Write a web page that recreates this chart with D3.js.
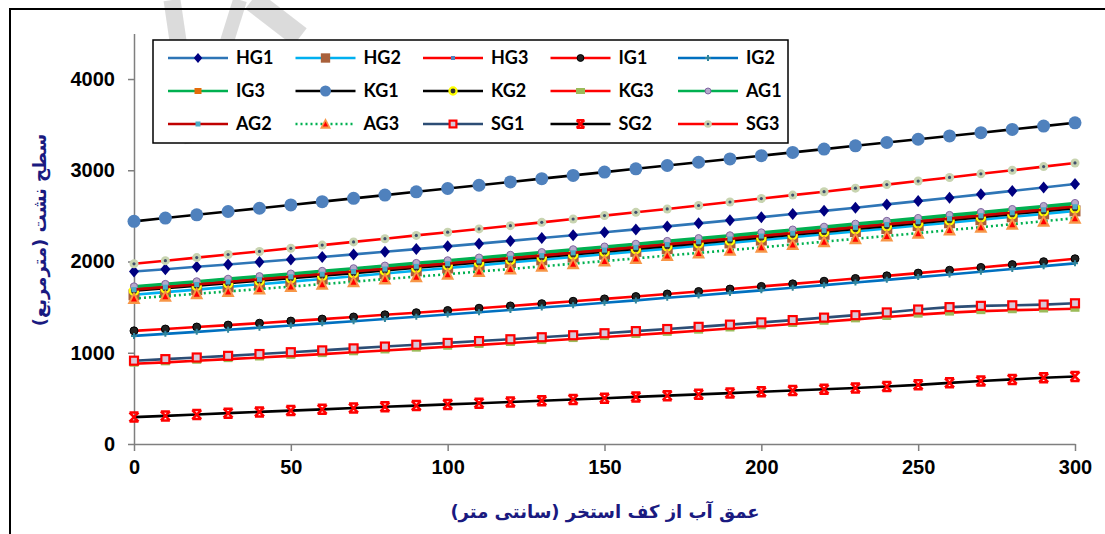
<!DOCTYPE html>
<html>
<head>
<meta charset="utf-8">
<script src="https://cdn.jsdelivr.net/npm/d3@7"></script>
<style>
  body { margin: 0; background: #fff; }
  svg { display: block; }
  .axis text { font-family: "Liberation Sans", Arial, sans-serif; font-weight: bold; font-size: 20px; fill: #000; }
  .axis path, .axis line { stroke: #7f7f7f; stroke-width: 1.5; }
  .legend text { font-family: Lato, "Open Sans", sans-serif; font-weight: bold; font-size: 18px; fill: #000; }
  .title { font-family: "DejaVu Sans", sans-serif; font-weight: bold; fill: #1a1a80; }
</style>
</head>
<body>
<svg width="1105" height="534"></svg>
<script>
// DATA
const depth = [0, 10, 20, 30, 40, 50, 60, 70, 80, 90, 100, 110, 120, 130, 140, 150, 160, 170, 180, 190, 200, 210, 220, 230, 240, 250, 260, 270, 280, 290, 300]

const HG1 = [1890, 1916, 1942, 1968, 1995, 2022, 2050, 2078, 2107, 2136, 2166, 2196, 2226, 2257, 2288, 2320, 2352, 2385, 2418, 2451, 2486, 2520, 2555, 2590, 2626, 2662, 2699, 2736, 2774, 2812, 2850]
const HG2 = [1635, 1664, 1692, 1722, 1751, 1780, 1809, 1839, 1868, 1898, 1929, 1958, 1989, 2019, 2049, 2080, 2111, 2141, 2173, 2204, 2235, 2266, 2298, 2329, 2361, 2394, 2425, 2458, 2490, 2522, 2555]
const HG3 = [1700, 1727, 1756, 1784, 1812, 1841, 1869, 1898, 1927, 1956, 1985, 2015, 2045, 2074, 2105, 2135, 2165, 2196, 2227, 2257, 2289, 2320, 2351, 2384, 2415, 2447, 2480, 2512, 2544, 2577, 2610]
const IG1 = [1240, 1260, 1282, 1303, 1324, 1347, 1369, 1392, 1416, 1439, 1463, 1488, 1513, 1538, 1564, 1590, 1616, 1644, 1671, 1698, 1727, 1755, 1784, 1814, 1843, 1873, 1904, 1935, 1966, 1998, 2030]
const IG2 = [1185, 1207, 1229, 1252, 1275, 1299, 1322, 1346, 1370, 1395, 1419, 1444, 1469, 1496, 1521, 1548, 1574, 1602, 1628, 1656, 1684, 1713, 1741, 1770, 1799, 1829, 1858, 1888, 1918, 1949, 1980]
const IG3 = [1720, 1747, 1776, 1804, 1832, 1861, 1889, 1918, 1947, 1976, 2005, 2035, 2065, 2094, 2125, 2155, 2185, 2216, 2247, 2277, 2309, 2340, 2371, 2404, 2435, 2467, 2500, 2532, 2564, 2597, 2630]
const KG1 = [2440, 2476, 2512, 2548, 2584, 2620, 2656, 2692, 2728, 2764, 2800, 2836, 2872, 2908, 2944, 2980, 3016, 3052, 3088, 3124, 3160, 3196, 3232, 3268, 3304, 3340, 3376, 3412, 3448, 3484, 3520]
const KG2 = [1680, 1707, 1734, 1762, 1789, 1817, 1845, 1873, 1901, 1931, 1960, 1989, 2018, 2047, 2077, 2108, 2138, 2168, 2199, 2230, 2261, 2293, 2324, 2356, 2388, 2420, 2452, 2486, 2519, 2552, 2585]
const KG3 = [880, 895, 912, 930, 948, 966, 985, 1005, 1025, 1045, 1066, 1086, 1107, 1128, 1150, 1172, 1195, 1218, 1242, 1266, 1290, 1315, 1340, 1366, 1392, 1418, 1440, 1456, 1466, 1474, 1482]
const AG1 = [1728, 1755, 1784, 1812, 1840, 1869, 1898, 1927, 1956, 1985, 2014, 2044, 2074, 2104, 2135, 2165, 2195, 2226, 2257, 2288, 2320, 2351, 2382, 2415, 2446, 2478, 2511, 2543, 2576, 2609, 2642]
const AG2 = [1692, 1719, 1748, 1776, 1804, 1833, 1861, 1890, 1918, 1947, 1976, 2006, 2036, 2065, 2095, 2125, 2155, 2186, 2217, 2247, 2279, 2310, 2341, 2374, 2405, 2437, 2470, 2502, 2534, 2567, 2600]
const AG3 = [1595, 1620, 1647, 1672, 1698, 1725, 1752, 1779, 1807, 1834, 1861, 1890, 1918, 1947, 1976, 2005, 2034, 2065, 2094, 2124, 2155, 2186, 2217, 2249, 2280, 2311, 2344, 2376, 2409, 2442, 2475]
const SG1 = [913, 930, 948, 966, 986, 1006, 1026, 1048, 1068, 1088, 1108, 1128, 1148, 1170, 1192, 1214, 1237, 1260, 1284, 1308, 1333, 1358, 1385, 1412, 1442, 1474, 1500, 1514, 1520, 1528, 1542]
const SG2 = [295, 308, 323, 338, 352, 366, 380, 394, 408, 421, 434, 447, 460, 474, 488, 502, 516, 530, 544, 558, 572, 586, 600, 614, 630, 648, 670, 690, 708, 726, 740]
const SG3 = [1975, 2009, 2043, 2077, 2110, 2145, 2180, 2215, 2250, 2286, 2321, 2357, 2393, 2429, 2466, 2503, 2539, 2576, 2614, 2652, 2690, 2728, 2765, 2804, 2843, 2882, 2921, 2961, 3000, 3040, 3080]

const names = ["HG1", "HG2", "HG3", "IG1", "IG2", "IG3", "KG1", "KG2", "KG3", "AG1", "AG2", "AG3", "SG1", "SG2", "SG3"]
const values = [HG1, HG2, HG3, IG1, IG2, IG3, KG1, KG2, KG3, AG1, AG2, AG3, SG1, SG2, SG3]
const xTicks = [0, 50, 100, 150, 200, 250, 300]
const yTicks = [0, 1000, 2000, 3000, 4000]

// line colour, dash, marker kind
const styles = {
  HG1: { line: "#2e75b6", marker: "diamond" },
  HG2: { line: "#00b0f0", marker: "square" },
  HG3: { line: "#ff0000", marker: "tiny" },
  IG1: { line: "#ff0000", marker: "dot" },
  IG2: { line: "#0070c0", marker: "teal" },
  IG3: { line: "#00b050", marker: "orange" },
  KG1: { line: "#000000", marker: "bigcircle" },
  KG2: { line: "#000000", marker: "ring" },
  KG3: { line: "#ff0000", marker: "olive" },
  AG1: { line: "#00b050", marker: "grey" },
  AG2: { line: "#c00000", marker: "cyan" },
  AG3: { line: "#00b050", marker: "triangle", dash: "2,3" },
  SG1: { line: "#2c4d75", marker: "redsquare" },
  SG2: { line: "#000000", marker: "star" },
  SG3: { line: "#ff0000", marker: "pale" }
}

// SETUP
const svg = d3.select("svg")

// frame
svg.append("rect")
  .attr("x", 10).attr("y", 9)
  .attr("width", 1110).attr("height", 540)
  .attr("fill", "none")
  .attr("stroke", "#000")
  .attr("stroke-width", 2)

// faint watermark
const mark = svg.append("g")
  .attr("stroke", "#000")
  .attr("stroke-opacity", 0.14)
  .attr("fill", "none")
  .attr("stroke-linecap", "butt")
mark.append("path").attr("d", "M172,0 L193,143").attr("stroke-width", 17)
mark.append("path").attr("d", "M240,0 L203,118").attr("stroke-width", 14)
mark.append("path").attr("d", "M252,0 L300,37").attr("stroke-width", 22)
mark.append("path").attr("d", "M183,118 L214,118").attr("stroke-width", 10)

const scaleX = d3.scaleLinear()
  .domain([0, 300])
  .range([134, 1075])

const scaleY = d3.scaleLinear()
  .domain([0, 4500])
  .range([444, 33.4])

const axisX = d3.axisBottom(scaleX)
  .tickValues(xTicks)
  .tickSizeInner(7)
  .tickSizeOuter(0)
  .tickPadding(9)
  .tickFormat(d3.format("d"))

const axisY = d3.axisLeft(scaleY)
  .tickValues(yTicks)
  .tickSizeInner(6)
  .tickSizeOuter(0)
  .tickPadding(13)
  .tickFormat(d3.format("d"))

svg.append("g")
  .attr("class", "axis")
  .attr("transform", "translate(0, 444)")
  .call(axisX)

svg.append("g")
  .attr("class", "axis")
  .attr("transform", "translate(134, 0)")
  .call(axisY)

// markers
const drawMarker = function (g, kind, s) {
  s = s || 1
  if (kind == "diamond") {
    g.append("path").attr("d", `M0,${-6*s}L${5*s},0L0,${6*s}L${-5*s},0Z`).attr("fill", "#000080")
  } else if (kind == "square") {
    g.append("rect").attr("x", -5.5*s).attr("y", -5.5*s).attr("width", 11*s).attr("height", 11*s).attr("fill", "#a9603a")
  } else if (kind == "tiny") {
    g.append("rect").attr("x", -2).attr("y", -2).attr("width", 4).attr("height", 4).attr("fill", "#4f81bd")
  } else if (kind == "dot") {
    g.append("circle").attr("r", 4*s).attr("fill", "#222").attr("stroke", "#000")
  } else if (kind == "teal") {
    g.append("path").attr("d", "M-3,0H3M0,-3V3").attr("stroke", "#31859c").attr("stroke-width", 2)
  } else if (kind == "orange") {
    g.append("rect").attr("x", -3.5).attr("y", -3).attr("width", 7).attr("height", 6).attr("fill", "#e46c0a")
  } else if (kind == "bigcircle") {
    g.append("circle").attr("r", 6.5*s).attr("fill", "#4f81bd")
  } else if (kind == "ring") {
    g.append("circle").attr("r", 4.2*s).attr("fill", "#333").attr("stroke", "#ffff00").attr("stroke-width", 2.2)
  } else if (kind == "olive") {
    g.append("rect").attr("x", -4.5).attr("y", -3).attr("width", 9).attr("height", 6).attr("fill", "#9bbb59")
  } else if (kind == "grey") {
    g.append("circle").attr("r", 3.5*s).attr("fill", "#b4aacb").attr("stroke", "#8064a2")
  } else if (kind == "cyan") {
    g.append("rect").attr("x", -2.5).attr("y", -2.5).attr("width", 5).attr("height", 5).attr("fill", "#4bacc6")
  } else if (kind == "triangle") {
    g.append("path").attr("d", `M0,${-7*s}L${6.5*s},${5.5*s}L${-6.5*s},${5.5*s}Z`).attr("fill", "#f79646")
    g.append("path").attr("d", `M0,${-3*s}L${3*s},${3*s}L${-3*s},${3*s}Z`).attr("fill", "#ff0000")
  } else if (kind == "redsquare") {
    g.append("rect").attr("x", -4*s).attr("y", -4*s).attr("width", 8*s).attr("height", 8*s)
      .attr("fill", "#d8c8d8").attr("stroke", "#ff0000").attr("stroke-width", 2.2)
  } else if (kind == "star") {
    g.append("path").attr("d", `M${-4.5*s},${-4.5*s}L${4.5*s},${4.5*s}M${4.5*s},${-4.5*s}L${-4.5*s},${4.5*s}M${-4.5*s},${-4.5*s}H${4.5*s}M${-4.5*s},${4.5*s}H${4.5*s}`)
      .attr("stroke", "#ff0000").attr("stroke-width", 2.5).attr("fill", "none")
  } else if (kind == "pale") {
    g.append("circle").attr("r", 4.5*s).attr("fill", "#c8d4b0")
    g.append("circle").attr("r", 1.6*s).attr("fill", "#40506a")
  }
}

const line = d3.line()
  .x((d, i) => { return scaleX(depth[i]) })
  .y((d, i) => { return scaleY(d) })

const plot = svg.append("g").attr("class", "plot")

names.forEach((name, k) => {
  const st = styles[name]
  const g = plot.append("g").attr("class", "series " + name)
  g.append("path")
    .datum(values[k])
    .attr("d", line)
    .attr("fill", "none")
    .attr("stroke", st.line)
    .attr("stroke-width", 2.6)
    .attr("stroke-dasharray", st.dash || null)
  g.selectAll("g.pt")
    .data(values[k])
    .enter()
    .append("g")
    .attr("class", "pt")
    .attr("transform", (d, i) => { return `translate(${scaleX(depth[i])}, ${scaleY(d)})` })
    .each(function () { drawMarker(d3.select(this), st.marker) })
})

// legend
const legend = svg.append("g").attr("class", "legend")
legend.append("rect")
  .attr("x", 153).attr("y", 40)
  .attr("width", 635).attr("height", 103)
  .attr("fill", "#fff")
  .attr("stroke", "#000")
  .attr("stroke-width", 1.5)

const rowsY = [58, 91, 124]
names.forEach((name, k) => {
  const st = styles[name]
  const x0 = 168 + (k % 5) * 127.5
  const y0 = rowsY[Math.floor(k / 5)]
  const item = legend.append("g").attr("transform", `translate(${x0}, ${y0})`)
  item.append("line")
    .attr("x1", 0).attr("x2", 60)
    .attr("stroke", st.line)
    .attr("stroke-width", 2.6)
    .attr("stroke-dasharray", st.dash || null)
  drawMarker(item.append("g").attr("transform", "translate(30, 0)"), st.marker, 0.85)
  item.append("text")
    .attr("x", 68).attr("y", 0)
    .attr("dy", "0.36em")
    .text(name)
})

// titles
svg.append("text")
  .attr("class", "title")
  .attr("transform", "translate(40, 230) rotate(-90)")
  .attr("text-anchor", "middle")
  .attr("dy", "0.35em")
  .attr("font-size", 18)
  .text("سطح نشت (مترمربع)")

svg.append("text")
  .attr("class", "title")
  .attr("x", 605).attr("y", 512)
  .attr("text-anchor", "middle")
  .attr("dy", "0.35em")
  .attr("font-size", 18)
  .text("عمق آب از کف استخر (سانتی متر)")
</script>
</body>
</html>
